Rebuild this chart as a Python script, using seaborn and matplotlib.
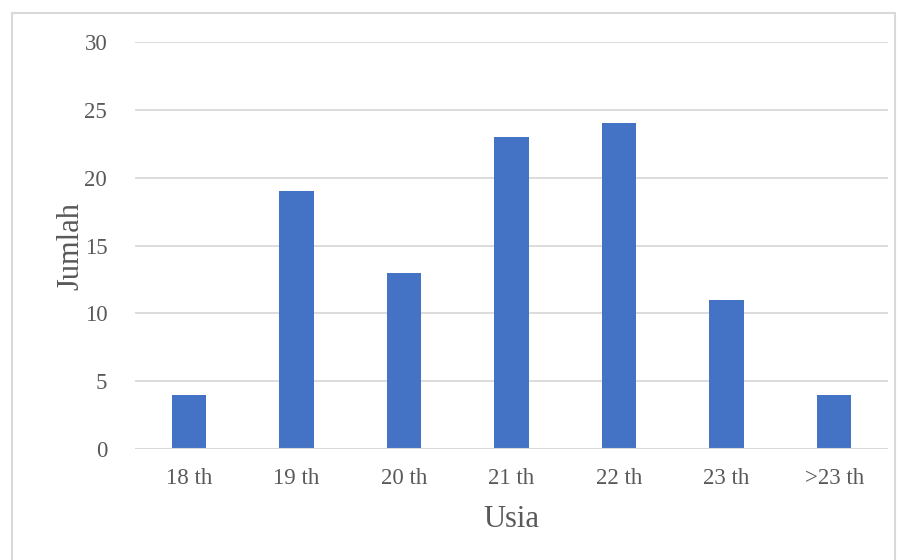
import matplotlib
matplotlib.use("Agg")
import matplotlib.pyplot as plt
import matplotlib.patches as mpatches
import seaborn as sns
import pandas as pd

categories = ["18 th", "19 th", "20 th", "21 th", "22 th", "23 th", ">23 th"]
counts = [4, 19, 13, 23, 24, 11, 4]
y_ticks = [0, 5, 10, 15, 20, 25, 30]

df = pd.DataFrame({"Usia": categories, "Jumlah": counts})

sns.set_theme(style="white")
plt.rcParams["font.family"] = ["Liberation Serif", "DejaVu Serif"]

text_color = "#595959"
grid_color = "#D9D9D9"
bar_color = "#4472C4"

W, H = 907, 560
fig = plt.figure(figsize=(W / 100, H / 100), dpi=100)
fig.patch.set_facecolor("white")

# outer chart-area frame (bottom edge falls outside the canvas)
frame = mpatches.Rectangle((12 / W, -0.05), (895 - 12) / W, 1.05 - 13 / H,
                           transform=fig.transFigure, fill=False,
                           edgecolor=grid_color, linewidth=1.5)
fig.patches.append(frame)

ax = fig.add_axes([135 / W, 1 - 449 / H, (888 - 135) / W, (449 - 42) / H])

sns.barplot(data=df, x="Usia", y="Jumlah", color=bar_color, width=0.32,
            saturation=1, linewidth=0, ax=ax, zorder=3)

ax.set_ylim(0, 30)
ax.set_xlim(-0.5, len(categories) - 0.5)
ax.set_yticks(y_ticks)
ax.set_yticklabels([str(t) for t in y_ticks])
for t in y_ticks[1:]:
    ax.axhline(t, color=grid_color, linewidth=1.3, zorder=1)
ax.axhline(0, color=grid_color, linewidth=1.5, zorder=4)

for s in ax.spines.values():
    s.set_visible(False)

ax.tick_params(axis="both", length=0, labelsize=16.5, labelcolor=text_color)
ax.tick_params(axis="x", pad=14)
ax.tick_params(axis="y", pad=20)

ax.set_xlabel("Usia", fontsize=22, color=text_color, labelpad=11)
ax.set_ylabel("Jumlah", fontsize=22, color=text_color, labelpad=-1)

fig.savefig("out.png", dpi=100, facecolor="white")
